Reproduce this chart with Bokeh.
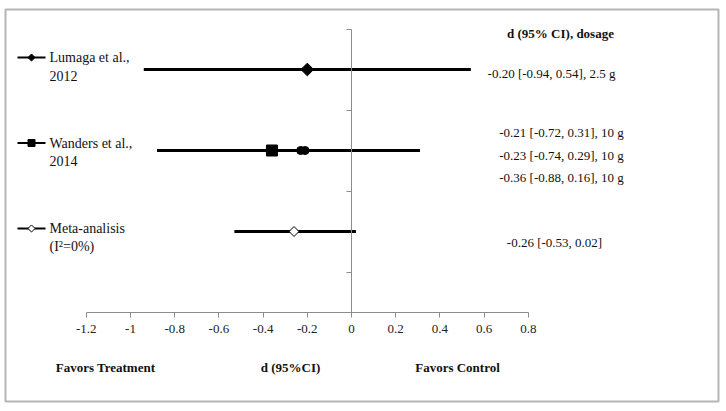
import numpy as np
from bokeh.plotting import figure
from bokeh.models import LinearAxis, FixedTicker, Range1d
from bokeh.core.properties import value
from bokeh.embed import file_html
from bokeh.resources import INLINE

# ---------------- data ----------------
studies = ["Lumaga et al., 2012", "Wanders et al., 2014", "Wanders et al., 2014", "Wanders et al., 2014"]
d_est = [-0.20, -0.21, -0.23, -0.36]
ci_lo = [-0.94, -0.72, -0.74, -0.88]
ci_hi = [0.54, 0.31, 0.29, 0.16]
dosage = ["2.5 g", "10 g", "10 g", "10 g"]
study_row = [3, 2, 2, 2]
study_marker = ["diamond", "circle", "circle", "square"]

meta_est = [-0.26]
meta_lo = [-0.53]
meta_hi = [0.02]
meta_row = [1]

x_ticks = [-1.2, -1.0, -0.8, -0.6, -0.4, -0.2, 0.0, 0.2, 0.4, 0.6, 0.8]
x_tick_labels = ["-1.2", "-1", "-0.8", "-0.6", "-0.4", "-0.2", "0", "0.2", "0.4", "0.6", "0.8"]
y_ticks = [0.5, 1.5, 2.5, 3.5]

legend_labels = [["Lumaga et al.,", "2012"], ["Wanders et al.,", "2014"], ["Meta-analisis", "(I\u00b2=0%)"]]
legend_markers = ["diamond", "square", "open_diamond"]

header = "d (95% CI), dosage"
bottom_labels = ["Favors Treatment", "d (95%CI)", "Favors Control"]

# ---------------- layout helpers (pixel -> data) ----------------
W, H = 726, 411
FR_L, FR_T, FR_R, FR_B = 5, 9, 718, 401   # frame (border box) in page pixels
PX_PER_X = 221.0
PX_PER_Y = 81.0
X0_PAGE, Y0_PAGE = 351.0, 312.0   # page position of data (0, 0)

def dx(px):
    return (px - X0_PAGE) / PX_PER_X

def dy(py):
    return (Y0_PAGE - py) / PX_PER_Y

FONT = "Liberation Serif"

p = figure(width=W, height=H, output_backend="svg", toolbar_location=None,
           x_axis_type=None, y_axis_type=None,
           x_range=Range1d(dx(FR_L), dx(FR_R)), y_range=Range1d(dy(FR_B), dy(FR_T)),
           min_border=0, min_border_left=FR_L, min_border_right=W - FR_R,
           min_border_top=FR_T, min_border_bottom=H - FR_B)
p.grid.visible = False
p.outline_line_color = "#b5b5b5"
p.outline_line_width = 2
p.background_fill_color = "white"
p.border_fill_color = "white"

AX_COL = "#8c8c8c"

xaxis = LinearAxis(fixed_location=0, bounds=(x_ticks[0], x_ticks[-1]),
                   ticker=FixedTicker(ticks=x_ticks),
                   major_label_overrides={t: l for t, l in zip(x_ticks, x_tick_labels)})
xaxis.axis_line_color = AX_COL
xaxis.major_tick_line_color = AX_COL
xaxis.minor_tick_line_color = None
xaxis.major_tick_in = 0
xaxis.major_tick_out = 5
xaxis.major_label_standoff = 7
xaxis.major_label_text_font = FONT
xaxis.major_label_text_font_size = "13px"
xaxis.major_label_text_color = "#222222"
p.add_layout(xaxis, "below")

yaxis = LinearAxis(fixed_location=0, bounds=(0, y_ticks[-1]),
                   ticker=FixedTicker(ticks=y_ticks))
yaxis.axis_line_color = AX_COL
yaxis.major_tick_line_color = AX_COL
yaxis.minor_tick_line_color = None
yaxis.major_tick_in = 0
yaxis.major_tick_out = 5
yaxis.major_label_text_color = None
yaxis.major_label_text_font_size = "0px"
p.add_layout(yaxis, "left")

# ---------------- CI lines ----------------
p.segment(x0=ci_lo, x1=ci_hi, y0=study_row, y1=study_row, line_color="black", line_width=3)
p.segment(x0=meta_lo, x1=meta_hi, y0=meta_row, y1=meta_row, line_color="black", line_width=3)

# ---------------- markers ----------------
def sel(kind):
    idx = [i for i, m in enumerate(study_marker) if m == kind]
    return [d_est[i] for i in idx], [study_row[i] for i in idx]

xs, ys = sel("diamond")
p.scatter(xs, ys, marker="square", angle=np.pi / 4, size=9, fill_color="black", line_color="black")
xs, ys = sel("circle")
p.scatter(xs, ys, marker="circle", size=8, fill_color="black", line_color="black")
xs, ys = sel("square")
p.scatter(xs, ys, marker="square", size=11, fill_color="black", line_color="black")
p.scatter(meta_est, meta_row, marker="square", angle=np.pi / 4, size=7,
          fill_color="white", line_color="black", line_width=1)

# ---------------- legend (drawn manually) ----------------
leg_y_page = [57.0, 142.5, 228.0]
leg_line_x = (dx(17), dx(45))
leg_mark_x = dx(31)
leg_text_x = dx(49)
for (lines, mk, ypg) in zip(legend_labels, legend_markers, leg_y_page):
    yy = dy(ypg)
    p.segment(x0=[leg_line_x[0]], x1=[leg_line_x[1]], y0=[yy], y1=[yy], line_color="black", line_width=2)
    if mk == "diamond":
        p.scatter([leg_mark_x], [yy], marker="square", angle=np.pi / 4, size=5, fill_color="black", line_color="black")
    elif mk == "square":
        p.scatter([leg_mark_x], [yy], marker="square", size=7, fill_color="black", line_color="black")
    else:
        p.scatter([leg_mark_x], [yy], marker="square", angle=np.pi / 4, size=5, fill_color="white", line_color="black")
    for k, t in enumerate(lines):
        p.text([leg_text_x], [dy(ypg + 18 * k)], text=[t], text_font=value(FONT), text_font_size="14px",
               text_align="left", text_baseline="middle", text_color="#111111")

# ---------------- right column: estimates ----------------
est_text = [f"{e:.2f} [{l:.2f}, {h:.2f}], {g}" for e, l, h, g in zip(d_est, ci_lo, ci_hi, dosage)]
est_text += [f"{e:.2f} [{l:.2f}, {h:.2f}]" for e, l, h in zip(meta_est, meta_lo, meta_hi)]
est_x_page = [551, 561, 561, 561, 554]
est_y_page = [73, 132, 155, 177, 242]
p.text([dx(v) for v in est_x_page], [dy(v) for v in est_y_page], text=est_text,
       text_font=value(FONT), text_font_size="13px", text_align="center",
       text_baseline="middle", text_color="#111111")

p.text([dx(560)], [dy(33)], text=[header], text_font=value(FONT), text_font_size="13px",
       text_font_style="bold", text_align="center", text_baseline="middle", text_color="#111111")

bl_x_page = [105, 290, 457]
p.text([dx(v) for v in bl_x_page], [dy(367)] * 3, text=bottom_labels, text_font=value(FONT),
       text_font_size="13px", text_font_style="bold", text_align="center",
       text_baseline="middle", text_color="#111111")

open("out.html", "w").write(file_html(p, INLINE))
